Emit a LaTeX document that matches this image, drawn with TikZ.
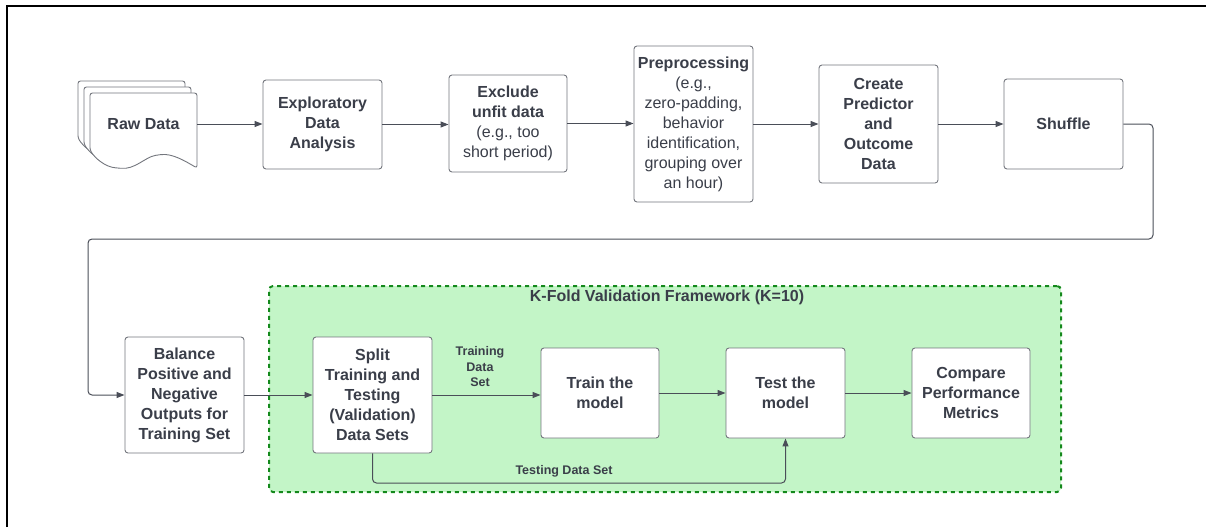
\documentclass[tikz,border=0pt]{standalone}
\usepackage{fontspec}
\setmainfont{Liberation Sans}
\usetikzlibrary{arrows.meta}
\definecolor{txt}{HTML}{3A3E49}
\definecolor{bord}{HTML}{73767D}
\definecolor{conn}{HTML}{4A4E58}
\definecolor{gfill}{HTML}{C3F5C7}
\definecolor{gbord}{HTML}{14891C}
\begin{document}
\begin{tikzpicture}[x=1pt,y=-1pt,
  box/.style={draw=bord, line width=0.9pt, rounded corners=3pt, fill=white, inner sep=0pt, align=center, text=txt, font=\fontsize{16}{20}\selectfont\bfseries},
  arr/.style={draw=conn, line width=1pt, -{Triangle[length=8pt,width=6pt]}},
  lbl/.style={text=txt, font=\fontsize{12.5}{15.5}\selectfont\bfseries, align=center, inner sep=0pt},
  page/.style={draw=bord, line width=0.9pt, fill=white, rounded corners=2.5pt},
  frame/.style={draw=black, line width=2.5pt}]
\useasboundingbox (0,0) rectangle (1206,527);
% frame (left and top)
\draw[frame] (7,527) -- (7,6) -- (1206,6);

% green container
\node[draw=gbord, fill=gfill, line width=2pt, dash pattern=on 4pt off 4pt, rounded corners=4pt,
      minimum width=792pt, minimum height=206pt, inner sep=0pt] (kfold) at (665,389) {};
\node[lbl, font=\fontsize{16}{20}\selectfont\bfseries] (ktitle) at (667,297) {K-Fold Validation Framework (K=10)};

% raw data document stack
\foreach \d in {12,6,0} {
  \begin{scope}[shift={(-\d,-\d)}]
    \path[page] (90,150) -- (90,93) -- (197,93) -- (197,168)
      .. controls (185,161) and (172,153) .. (158,155)
      .. controls (145,157) and (135,170) .. (118,168)
      .. controls (105,167) and (95,158) .. (90,150) -- cycle;
  \end{scope}
}
\node[inner sep=0pt, minimum width=107pt, minimum height=62pt, text=txt,
      font=\fontsize{16}{20}\selectfont\bfseries] (raw) at (143.5,124) {Raw Data};

% top row
\node[box, minimum width=119pt, minimum height=89pt] (eda) at (322.5,124.5) {Exploratory\\Data\\Analysis};
\node[box, minimum width=118pt, minimum height=97pt] (excl) at (508,123.5)
  {Exclude\\unfit data\\\mdseries (e.g., too\\\mdseries short period)};
\node[box, minimum width=119pt, minimum height=156pt] (prep) at (693.5,124)
  {Preprocessing\\\mdseries (e.g.,\\\mdseries zero-padding,\\\mdseries behavior\\\mdseries identification,\\\mdseries grouping over\\\mdseries an hour)};
\node[box, minimum width=119pt, minimum height=118pt] (create) at (878.5,124) {Create\\Predictor\\and\\Outcome\\Data};
\node[box, minimum width=119pt, minimum height=90pt] (shuffle) at (1063.5,124) {Shuffle};

% bottom row
\node[box, minimum width=119pt, minimum height=116pt] (balance) at (184.5,395)
  {Balance\\Positive and\\Negative\\Outputs for\\Training Set};
\node[box, minimum width=119pt, minimum height=116pt] (split) at (372.5,395)
  {Split\\Training and\\Testing\\(Validation)\\Data Sets};
\node[box, minimum width=118pt, minimum height=90pt] (train) at (600,393) {Train the\\model};
\node[box, minimum width=119pt, minimum height=90pt] (test) at (785.5,393) {Test the\\model};
\node[box, minimum width=118pt, minimum height=90pt] (compare) at (971,393) {Compare\\Performance\\Metrics};

% connectors top row
\draw[arr] (raw.east) -- (raw.east -| eda.west);
\draw[arr] (eda.east) -- (eda.east -| excl.west);
\draw[arr] (excl.east) -- (excl.east -| prep.west);
\draw[arr] (prep.east) -- (prep.east -| create.west);
\draw[arr] (create.east) -- (create.east -| shuffle.west);

% wrap-around connector
\coordinate (w1) at (1153,124);
\coordinate (w2) at (1153,239);
\coordinate (w3) at (88,239);
\draw[arr, rounded corners=4pt] (shuffle.east) -- (w1) -- (w2) -- (w3) -- (w3 |- balance.west) -- (balance.west);

% bottom connectors
\draw[arr] (balance.east) -- (balance.east -| split.west);
\draw[arr] (split.east) -- (split.east -| train.west);
\draw[arr] (train.east) -- (train.east -| test.west);
\draw[arr] (test.east) -- (test.east -| compare.west);
\coordinate (t1) at (372.5,483);
\draw[arr, rounded corners=4pt] (split.south) -- (t1) -- (t1 -| test.south) -- (test.south);

% labels
\node[lbl] (trlbl) at (480,367) {Training\\Data\\Set};
\node[lbl] (telbl) at (564,471) {Testing Data Set};
\end{tikzpicture}
\end{document}
